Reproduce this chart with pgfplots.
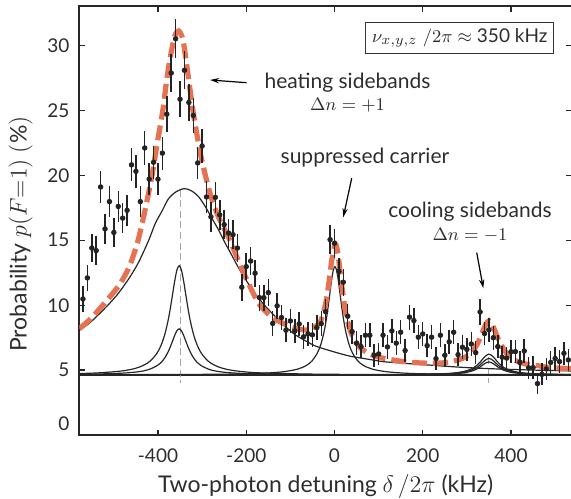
\documentclass[border=0pt]{standalone}
\usepackage{fontspec}
\setmainfont{Lato}
\usepackage{pgfplots}
\usepackage{pgfplotstable}
\pgfplotsset{compat=1.18}
\usetikzlibrary{calc,arrows.meta}
\definecolor{fitorange}{RGB}{229,114,82}
\definecolor{ptc}{RGB}{35,35,35}
\definecolor{txt}{RGB}{45,45,45}

\pgfplotstableread{
x y e
-570 10.48 0.99
-560 12.1 1.03
-550 14.4 1.09
-540 14.2 1.09
-530 19.1 1.22
-520 15.87 1.13
-510 17.97 1.19
-500 15.6 1.13
-490 17.6 1.18
-480 16.7 1.15
-470 17.3 1.17
-460 20.8 1.26
-450 20.3 1.25
-440 17.97 1.19
-430 22.1 1.29
-420 19.7 1.23
-410 21.0 1.27
-400 19.7 1.23
-390 21.7 1.28
-380 24.7 1.36
-370 27.87 1.44
-360 30.5 1.51
-350 25.85 1.39
-340 28.08 1.45
-330 25.6 1.39
-320 24.6 1.36
-310 20.95 1.26
-300 22.25 1.30
-290 18.33 1.20
-280 16.8 1.16
-270 18.3 1.20
-260 16.95 1.16
-250 16.2 1.14
-240 15.55 1.12
-230 15.43 1.12
-220 14.4 1.09
-210 11.38 1.02
-200 12.97 1.06
-190 13.4 1.07
-180 12.46 1.04
-170 10.58 1.00
-160 10.58 1.00
-150 10.97 1.01
-140 8.6 0.94
-130 9.95 0.98
-120 9.05 0.96
-110 8.08 0.93
-100 8.79 0.95
-90 8.02 0.93
-80 8.56 0.94
-70 7.57 0.92
-60 7.8 0.92
-50 7.72 0.92
-40 8.28 0.94
-30 8.58 0.94
-20 9.5 0.97
-10 15.05 1.11
0 14.77 1.10
10 12.6 1.05
20 11.77 1.03
30 9.15 0.96
40 7.97 0.93
50 7.08 0.90
60 6.82 0.90
70 7.69 0.92
80 7.69 0.92
90 6.15 0.88
100 6.25 0.88
110 7.69 0.92
120 6.79 0.90
130 8.02 0.93
140 7.08 0.90
150 7.92 0.93
160 6.51 0.89
170 9.08 0.96
180 8.82 0.95
190 7.54 0.92
200 7.79 0.92
210 6.89 0.90
220 7.54 0.92
230 5.89 0.87
240 7.69 0.92
250 6.15 0.88
260 7.18 0.91
270 7.92 0.93
280 6.2 0.88
290 6.77 0.90
300 6.6 0.89
310 7.02 0.90
320 6.35 0.89
330 9.48 0.97
340 7.82 0.92
350 8.1 0.93
360 7.5 0.92
370 6.82 0.90
380 6.0 0.88
390 5.93 0.87
400 6.42 0.89
410 6.43 0.89
420 5.6 0.87
430 6.48 0.89
440 5.18 0.85
450 5.2 0.86
460 3.97 0.82
470 4.68 0.84
480 5.1 0.85
490 5.6 0.87
500 5.9 0.87
510 5.66 0.87
520 6.3 0.88
530 5.79 0.87
}\datatbl

\begin{document}
\begin{tikzpicture}
\begin{axis}[
  name=ax,
  scale only axis,
  width=246.3pt, height=214.5pt,
  xmin=-578, xmax=538, ymin=0, ymax=33,
  xtick={-400,-200,0,200,400},
  ytick={0,5,10,15,20,25,30},
  tick align=inside,
  major tick length=2.8pt,
  axis line style={line width=1pt, black!85},
  tick style={line width=0.7pt, black!85},
  /pgf/number format/assume math mode=true,
  ticklabel style={font=\fontsize{9.5}{11}\selectfont, text=txt},
  xticklabel style={yshift=-3.5pt},
  yticklabel style={xshift=-1.5pt},
  yticklabel={\ifdim\tick pt<1pt\raisebox{2.5pt}[0pt][0pt]{0}\else\pgfmathprintnumber{\tick}\fi},
  xlabel={Two-photon detuning $\delta\,/2\pi$ (kHz)},
  ylabel={Probability $p(F{=}1)$ $(\%)$},
  label style={font=\fontsize{11.5}{13}\selectfont, text=txt},
  xlabel style={at={(axis description cs:0.5,0)}, anchor=base, yshift=-28.6pt},
  ylabel style={at={(axis description cs:-0.1195,0.469)}, anchor=center},
]
% baseline
\addplot[line width=1.1pt, black!85] coordinates {(-578,4.62) (538,4.62)};
% gray dashed guide lines
\addplot[line width=0.5pt, black!35, dash pattern=on 3.5pt off 1.8pt] coordinates {(-350,18.9) (-350,4.0)};
\addplot[line width=0.5pt, black!35, dash pattern=on 3.5pt off 1.8pt] coordinates {(350,6.0) (350,4.0)};
% broad component
\addplot[line width=0.6pt, black!85, smooth] coordinates {
(-578,8.07) (-556,8.6) (-534,9.3) (-510,10.13) (-489,10.95) (-465,12.1) (-444,13.3) (-421,15.0) (-406,16.3) (-390,17.3) (-376,18.2) (-358,18.75) (-340,18.97) (-324,18.8) (-308,18.35) (-293,17.6) (-278,16.7) (-262,15.75) (-248,14.8) (-232,13.8) (-217,12.85) (-198,11.8) (-180,10.9) (-160,10.05) (-142,9.4) (-116,8.5) (-90,7.75) (-60,7.15) (-40,6.82) (0,6.4) (35,6.08) (70,5.88) (110,5.66) (150,5.55) (186,5.46) (230,5.36) (262,5.28) (300,5.2) (350,5.12) (400,5.06) (460,5.0) (538,4.94)};
% narrow heating sideband, tall
\addplot[line width=0.6pt, black!85, smooth] coordinates {
(-578,4.74) (-532,4.80) (-482,4.94) (-452,5.13) (-432,5.39) (-417,5.72) (-402,6.32) (-392,7.0) (-384,7.82) (-377,8.84) (-372,9.76) (-367,10.82) (-362,11.88) (-357,12.72) (-352,13.04) (-347,12.72) (-342,11.88) (-337,10.82) (-332,9.76) (-327,8.84) (-320,7.82) (-312,7.0) (-302,6.32) (-287,5.72) (-272,5.39) (-252,5.13) (-222,4.94) (-172,4.80) (-52,4.70) (98,4.67) (538,4.65)};
% narrow heating sideband, short
\addplot[line width=0.6pt, black!85, smooth] coordinates {
(-578,4.68) (-532,4.71) (-482,4.77) (-452,4.85) (-432,4.95) (-417,5.10) (-402,5.35) (-392,5.63) (-384,5.98) (-377,6.41) (-372,6.80) (-367,7.24) (-362,7.69) (-357,8.04) (-352,8.18) (-347,8.04) (-342,7.69) (-337,7.24) (-332,6.80) (-327,6.41) (-320,5.98) (-312,5.63) (-302,5.35) (-287,5.10) (-272,4.95) (-252,4.85) (-222,4.77) (-172,4.71) (-52,4.66) (538,4.64)};
% carrier
\addplot[line width=0.6pt, black!85, smooth] coordinates {
(-578,4.65) (-299,4.68) (-179,4.74) (-119,4.87) (-84,5.08) (-64,5.36) (-51,5.71) (-39,6.31) (-31,6.98) (-24,7.89) (-19,8.81) (-15,9.72) (-11,10.77) (-7,11.82) (-3,12.65) (1,12.97) (5,12.65) (9,11.82) (13,10.77) (17,9.72) (21,8.81) (26,7.89) (33,6.98) (41,6.31) (53,5.71) (66,5.36) (86,5.08) (121,4.87) (181,4.74) (301,4.68) (538,4.65)};
% cooling sideband components
\addplot[line width=0.6pt, black!85, smooth] coordinates {
(150,4.65) (240,4.72) (275,4.80) (295,4.92) (310,5.09) (320,5.30) (330,5.62) (340,6.02) (350,6.24) (360,6.02) (370,5.62) (380,5.30) (390,5.09) (405,4.92) (425,4.80) (460,4.72) (520,4.67) (538,4.66)};
\addplot[line width=0.6pt, black!85, smooth] coordinates {
(150,4.65) (240,4.70) (275,4.77) (295,4.86) (310,5.0) (320,5.16) (330,5.41) (340,5.73) (350,5.91) (360,5.73) (370,5.41) (380,5.16) (390,5.0) (405,4.86) (425,4.77) (460,4.70) (520,4.67) (538,4.66)};
\addplot[line width=0.6pt, black!85, smooth] coordinates {
(150,4.65) (240,4.69) (275,4.74) (295,4.81) (310,4.92) (320,5.05) (330,5.25) (340,5.50) (350,5.64) (360,5.50) (370,5.25) (380,5.05) (390,4.92) (405,4.81) (425,4.74) (460,4.69) (520,4.66) (538,4.65)};
% total fit
\addplot[line width=2.6pt, fitorange, smooth, dash pattern=on 7.5pt off 3pt] coordinates {
(-578,8.2) (-556,8.85) (-534,9.65) (-510,10.6) (-489,11.5) (-470,12.6) (-458,13.6) (-445,15.0) (-430,17.2) (-414,19.9) (-402,22.4) (-389,25.0) (-380,27.4) (-372,29.1) (-362,30.7) (-353,31.1) (-344,30.5) (-337,29.0) (-329,27.0) (-320,24.8) (-310,22.8) (-301,21.2) (-282,18.6) (-263,16.8) (-237,15.0) (-220,13.6) (-202,12.2) (-172,10.15) (-142,9.1) (-116,8.6) (-90,8.25) (-70,8.1) (-55,8.15) (-40,8.45) (-30,8.87) (-20,10.14) (-12,11.9) (-6,13.5) (2,14.7) (8,13.9) (14,12.2) (22,10.13) (30,8.73) (40,7.67) (55,6.85) (75,6.33) (100,6.0) (130,5.8) (160,5.65) (200,5.55) (240,5.55) (270,5.70) (290,5.90) (305,6.20) (315,6.54) (325,7.1) (335,7.9) (342,8.47) (350,8.8) (358,8.47) (365,7.9) (375,7.1) (385,6.54) (395,6.1) (410,5.75) (430,5.5) (460,5.35) (488,5.2) (538,5.12)};
% data
\addplot[only marks, mark=*, mark size=1.15pt, color=ptc, mark options={fill=ptc, draw=ptc},
  error bars/.cd, y dir=both, y explicit, error mark=none,
  error bar style={line width=0.75pt, color=ptc}]
  table[x=x, y=y, y error=e] {\datatbl};
% annotations
\node[font=\fontsize{10.5}{12}\selectfont, text=txt] at (axis cs:29.5,27.1) {heating sidebands};
\node[font=\fontsize{9}{11}\selectfont, text=txt] at (axis cs:29.5,25.4) {$\Delta n=+1$};
\draw[line width=0.6pt, -{Stealth[length=4.5pt,width=2.6pt]}] (axis cs:-199,27.12) -- (axis cs:-282,27.33);
\node[font=\fontsize{10.5}{12}\selectfont, text=txt] at (axis cs:69,21.33) {suppressed carrier};
\draw[line width=0.6pt, -{Stealth[length=4.5pt,width=2.6pt]}] (axis cs:39,19.77) -- (axis cs:19.9,16.77);
\node[font=\fontsize{10.5}{12}\selectfont, text=txt] at (axis cs:307,17.2) {cooling sidebands};
\node[font=\fontsize{9}{11}\selectfont, text=txt] at (axis cs:307,15.4) {$\Delta n=-1$};
\draw[line width=0.6pt, -{Stealth[length=4.5pt,width=2.6pt]}] (axis cs:322.3,14.05) -- (axis cs:337.2,11.3);
\node[draw=black!80, line width=0.6pt, minimum width=94pt, minimum height=15.3pt, inner sep=1.5pt,
  font=\fontsize{9.5}{11}\selectfont, text=txt] at (axis cs:284,30.56)
  {$\nu_{x,y,z}\;/2\pi\approx$ 350 kHz};
\end{axis}
\pgfresetboundingbox
\path ($(ax.south west)+(-39.73pt,-31.85pt)$) rectangle ($(ax.north east)+(-0.45pt,3.15pt)$);
\end{tikzpicture}
\end{document}
